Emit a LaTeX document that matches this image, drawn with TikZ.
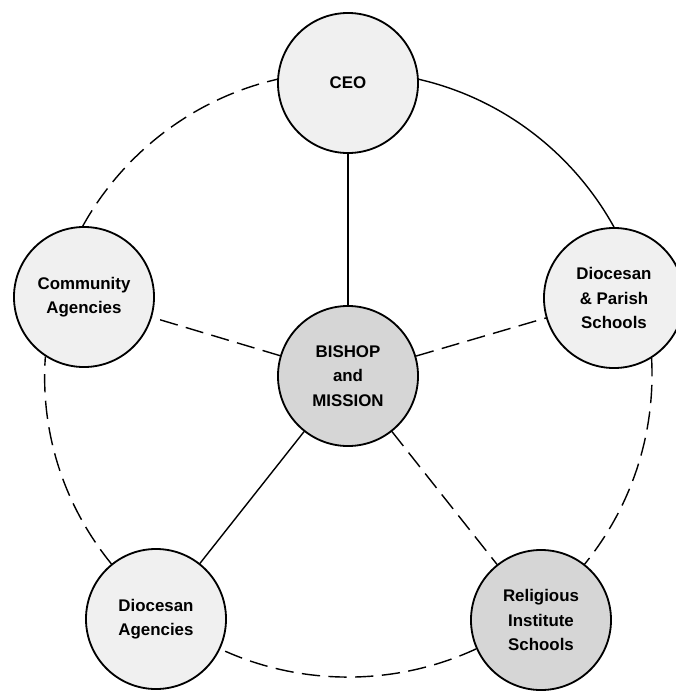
\documentclass[tikz,border=0pt]{standalone}
\usepackage{fontspec}
\setmainfont{Liberation Sans}

\begin{document}
\begin{tikzpicture}[x=0.025cm, y=-0.025cm]
  \tikzstyle{role}=[circle, draw, line width=1.3pt, fill=gray!12, minimum size=3.5cm, inner sep=0pt, align=center, font=\bfseries\fontsize{12}{17.5}\selectfont]
  \tikzstyle{core}=[role, fill=gray!32]
  \tikzstyle{tie}=[line width=1pt]
  \tikzstyle{loose}=[tie, dash pattern=on 13pt off 6pt]
  \tikzstyle{rim}=[looseness=0.89]
  \useasboundingbox (0,0) rectangle (676,692);
  \node[core] (mission) at (348,376) {BISHOP\\and\\MISSION};
  \node[role] (ceo) at (348,83) {CEO};
  \node[role] (community) at (84,297) {Community\\Agencies};
  \node[role] (parish) at (614,298) {Diocesan\\\& Parish\\Schools};
  \node[role] (dagencies) at (156,619) {Diocesan\\Agencies};
  \node[core] (religious) at (541,620) {Religious\\Institute\\Schools};
  \draw[tie] (mission) -- (ceo);
  \draw[tie] (mission) -- (dagencies);
  \draw[loose] (mission) -- (community);
  \draw[loose] (mission) -- (parish);
  \draw[loose] (mission) -- (religious);
  \draw[tie, rim] (ceo.3) to[out=-13, in=119] (parish.90);
  \draw[loose, rim] (parish.-58) to[out=-87, in=51] (religious.52);
  \draw[loose, rim] (religious.204) to[out=-155, in=-25] (dagencies.-25);
  \draw[loose, rim] (dagencies.129) to[out=129, in=266] (community.237);
  \draw[loose, rim] (community.91) to[out=61, in=193] (ceo.177);
\end{tikzpicture}
\end{document}
